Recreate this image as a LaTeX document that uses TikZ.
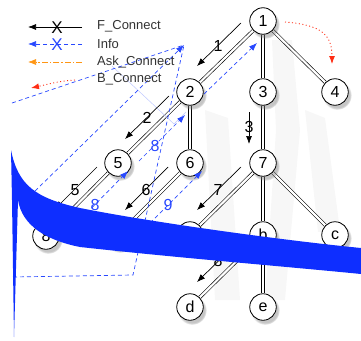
\documentclass[tikz,border=0pt]{standalone}
\usepackage{fontspec}
\setmainfont{Liberation Sans}
\usetikzlibrary{arrows.meta,shadows,backgrounds}
\definecolor{swooshblue}{RGB}{14,46,255}
\definecolor{infoblue}{RGB}{40,72,255}
\definecolor{askorange}{RGB}{255,150,20}
\definecolor{bred}{RGB}{255,45,20}
\definecolor{wmgray}{RGB}{247,247,247}
\begin{document}
\begin{tikzpicture}[x=1pt,y=-1pt,
  tnode/.style={circle,draw,line width=0.8pt,fill=white,minimum size=26.5pt,inner sep=0pt,
    font=\fontsize{16}{18}\selectfont,
    circular drop shadow={shadow xshift=2pt,shadow yshift=-3pt,opacity=0.45}},
  tedge/.style={line width=0.6pt,double=white,double distance=2.2pt},
  fconn/.style={line width=0.7pt,-{Latex[length=8pt,width=6pt]}},
  infoarr/.style={infoblue,line width=0.7pt,dash pattern=on 4pt off 3pt,-{Latex[length=8pt,width=6pt]}},
  askarr/.style={askorange,line width=0.7pt,dash pattern=on 6pt off 2pt on 1.5pt off 2pt,-{Latex[length=8pt,width=6pt]}},
  barr/.style={bred,line width=0.9pt,dash pattern=on 1pt off 2.5pt,-{Latex[length=8pt,width=6pt]}},
  steplbl/.style={font=\fontsize{16}{18}\selectfont,inner sep=0pt},
  legtext/.style={anchor=west,font=\fontsize{13}{15}\selectfont,text=black!80,inner sep=0pt},
  xmark/.style={font=\fontsize{17}{18}\selectfont,inner sep=0pt}
]
\useasboundingbox (0,0) rectangle (361,340);

% tree nodes
\node[tnode] (n1) at (263,21) {1};
\node[tnode] (n2) at (190,92) {2};
\node[tnode] (n3) at (263,92) {3};
\node[tnode] (n4) at (335,92) {4};
\node[tnode] (n5) at (118,163) {5};
\node[tnode] (n6) at (190,163) {6};
\node[tnode] (n7) at (263,163) {7};
\node[tnode] (n8) at (46,236) {8};
\node[tnode] (n9) at (118,235) {9};
\node[tnode] (na) at (190,235) {a};
\node[tnode] (nb) at (263,235) {b};
\node[tnode] (nc) at (335,235) {c};
\node[tnode] (nd) at (190,307) {d};
\node[tnode] (ne) at (263,307) {e};

\begin{scope}[on background layer]
% faint watermark
\fill[wmgray] (272,40) -- (292,40) -- (300,130) -- (285,300) -- (265,300) -- (276,130) -- cycle;
\fill[wmgray] (205,110) -- (228,118) -- (240,300) -- (215,300) -- cycle;
\fill[wmgray] (305,110) -- (325,118) -- (340,230) -- (318,232) -- cycle;
% tree edges
\foreach \p/\c in {n1/n2,n1/n3,n1/n4,n2/n5,n2/n6,n3/n7,n5/n8,n6/n9,n7/na,n7/nb,n7/nc,nb/nd,nb/ne}
  \draw[tedge] (\p) -- (\c);
\end{scope}

% faint selection lines
\coordinate (s1) at (112,66);
\coordinate (s2) at (174,124);
\coordinate (s3) at (186,112);
\draw[infoblue!30,line width=0.5pt] (s1) -- (s2) -- (s3);

% F_Connect step arrows
\coordinate (f1a) at (241,23); \coordinate (f1b) at (197,66);
\coordinate (f2a) at (169,96); \coordinate (f2b) at (125,139);
\coordinate (f3a) at (249,112); \coordinate (f3b) at (249,144);
\coordinate (f5a) at (97,167); \coordinate (f5b) at (55,209);
\coordinate (f6a) at (168,167); \coordinate (f6b) at (125,210);
\coordinate (f7a) at (241,167); \coordinate (f7b) at (197,210);
\coordinate (f8a) at (241,239); \coordinate (f8b) at (197,282);
\draw[fconn] (f1a) -- (f1b);
\draw[fconn] (f2a) -- (f2b);
\draw[fconn] (f3a) -- (f3b);
\draw[fconn] (f5a) -- (f5b);
\draw[fconn] (f6a) -- (f6b);
\draw[fconn] (f7a) -- (f7b);
\draw[fconn] (f8a) -- (f8b);
\node[steplbl] (l1) at (218,46) {1};
\node[steplbl] (l2) at (147,118) {2};
\node[steplbl] (l3) at (249,127) {3};
\node[steplbl] (l5) at (75,190) {5};
\node[steplbl] (l6) at (146,190) {6};
\node[steplbl] (l7) at (218,190) {7};
\node[steplbl] (l8) at (218,261) {8};

% Info arrows
\coordinate (i1a) at (204,94); \coordinate (i1b) at (257,43);
\coordinate (i2a) at (139,161); \coordinate (i2b) at (185,115);
\coordinate (i3a) at (72,228); \coordinate (i3b) at (128,171);
\coordinate (i4a) at (145,228); \coordinate (i4b) at (202,171);
\draw[infoarr] (i1a) -- (i1b);
\draw[infoarr] (i2a) -- (i2b);
\draw[infoarr] (i3a) -- (i3b);
\draw[infoarr] (i4a) -- (i4b);
\node[steplbl,text=infoblue] (b8a) at (155,146) {8};
\node[steplbl,text=infoblue] (b8b) at (95,205) {8};
\node[steplbl,text=infoblue] (b9) at (168,205) {9};

% long dashed lines converging at top
\coordinate (t0) at (184,45);
\coordinate (d1) at (12,103);
\coordinate (d2) at (30,196);
\coordinate (d3) at (13,277);
\coordinate (d4) at (133,275);
\draw[infoblue,line width=0.7pt,dash pattern=on 4pt off 3pt] (d1) -- (t0);
\draw[infoblue,line width=0.7pt,dash pattern=on 4pt off 3pt] (d3) -- (d4) -- (t0);
\draw[infoarr] (d2) -- (t0);

% B_Connect 1 -> 4
\coordinate (r1) at (285,22);
\coordinate (r2) at (332,64);
\draw[barr] (r1) .. controls (322,25) and (332,35) .. (r2);

% legend
\coordinate (lgF1) at (82,27); \coordinate (lgF0) at (28,27);
\coordinate (lgI1) at (82,44); \coordinate (lgI0) at (28,44);
\coordinate (lgA1) at (82,62); \coordinate (lgA0) at (28,62);
\coordinate (lgB1) at (75,80); \coordinate (lgB0) at (31,88);
\draw[fconn] (lgF1) -- (lgF0);
\draw[infoarr] (lgI1) -- (lgI0);
\draw[askarr] (lgA1) -- (lgA0);
\draw[barr] (lgB1) .. controls (58,81) and (45,85) .. (lgB0);
\node[xmark] (xF) at (57,28) {X};
\node[xmark,text=infoblue] (xI) at (57,45) {X};
\node[legtext] (tF) at (97,26) {F\_Connect};
\node[legtext] (tI) at (97,44) {Info};
\node[legtext] (tA) at (97,62) {Ask\_Connect};
\node[legtext] (tB) at (97,79) {B\_Connect};

% blue swoosh artefact
\fill[swooshblue] (11,150) .. controls (18,185) and (35,198) .. (80,208)
  .. controls (150,222) and (280,240) .. (361,248) -- (361,274)
  .. controls (280,266) and (180,258) .. (80,247)
  .. controls (45,240) and (22,225) .. (18,200)
  -- (14,337) -- (12,200) -- cycle;
\end{tikzpicture}
\end{document}
